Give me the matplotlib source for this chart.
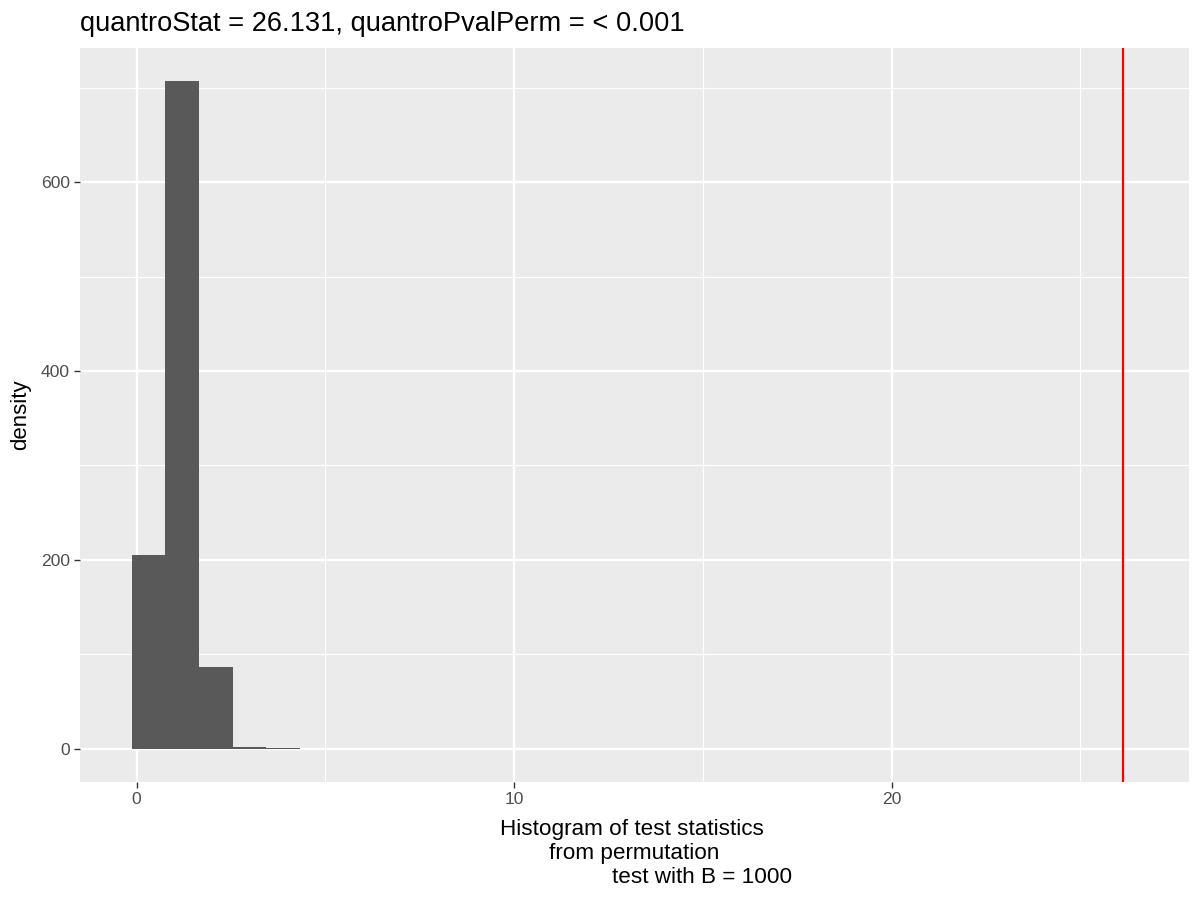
import numpy as np
import matplotlib.pyplot as plt

plt.rcParams['font.family'] = ['Liberation Sans', 'DejaVu Sans']

# Гістограма статистик перестановочного тесту
bin_edges = [-0.13, 0.76, 1.65, 2.54, 3.43, 4.32]
density = [205, 707, 86, 2, 1]
quantro_stat = 26.131
pval_text = '< 0.001'
B = 1000

x_ticks = [0, 10, 20]
x_minor = [5, 15, 25]
y_ticks = [0, 200, 400, 600]
y_minor = [100, 300, 500, 700]

fig = plt.figure(figsize=(12, 9), dpi=100)
ax = fig.add_axes([0.067, 0.1311, 0.9236, 0.8156])

# фон і сітка як у ggplot
ax.set_facecolor('#EBEBEB')
for v in x_ticks:
    ax.axvline(v, color='white', lw=1.7, zorder=0)
for v in x_minor:
    ax.axvline(v, color='white', lw=0.85, zorder=0)
for v in y_ticks:
    ax.axhline(v, color='white', lw=1.7, zorder=0)
for v in y_minor:
    ax.axhline(v, color='white', lw=0.85, zorder=0)

# стовпчики
widths = np.diff(bin_edges)
ax.bar(bin_edges[:-1], density, width=widths, align='edge', color='#595959', lw=0, zorder=2)

# спостережувана статистика
ax.axvline(quantro_stat, color='red', lw=1.6, zorder=3)

ax.set_xlim(-1.49, 27.87)
ax.set_ylim(-35.35, 742.35)
ax.set_xticks(x_ticks)
ax.set_yticks(y_ticks)
ax.tick_params(axis='both', colors='#333333', labelcolor='#4D4D4D', labelsize=12.6,
               length=4, width=1)
ax.tick_params(axis='x', pad=3)
for s in ax.spines.values():
    s.set_visible(False)

ax.set_ylabel('density', fontsize=16, labelpad=7)
fig.text(0.067, 1 - 31 / 900, 'quantroStat = ' + str(quantro_stat) + ', quantroPvalPerm = ' + pval_text,
         fontsize=19.6, ha='left', va='baseline')

# підпис осі x у три рядки
fig.text(631.5 / 1200, 1 - 835 / 900, 'Histogram of test statistics', fontsize=16.2, ha='center', va='baseline')
fig.text(634 / 1200, 1 - 859 / 900, 'from permutation', fontsize=16.2, ha='center', va='baseline')
fig.text(702.5 / 1200, 1 - 883 / 900, 'test with B = ' + str(B), fontsize=16.2, ha='center', va='baseline')

fig.savefig('out.png', dpi=100)
